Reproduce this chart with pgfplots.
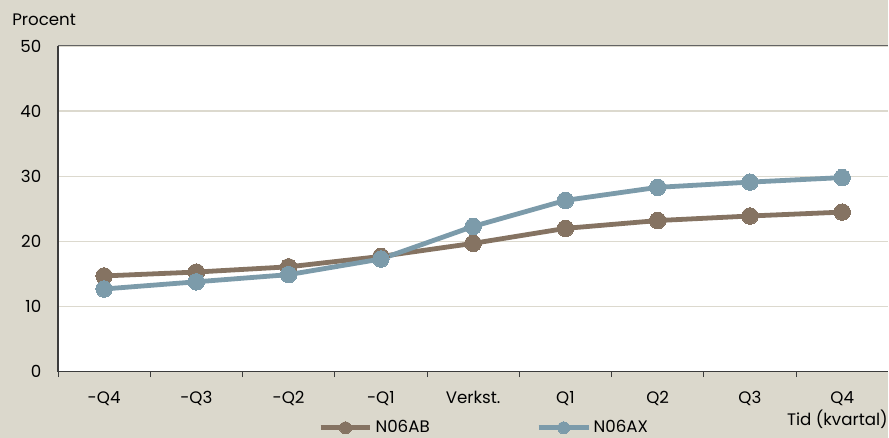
\documentclass[border=0pt]{standalone}
\usepackage{pgfplots}
\pgfplotsset{compat=1.18}
\usepackage{fontspec}
\setmainfont{Poppins}
\definecolor{bgc}{RGB}{219,216,204}
\definecolor{gridc}{RGB}{220,217,206}
\definecolor{brownc}{RGB}{133,115,98}
\definecolor{bluec}{RGB}{124,155,170}
\definecolor{axc}{RGB}{60,60,60}
\begin{document}
\begin{tikzpicture}
\fill[bgc] (0,0) rectangle (666.75pt,328.5pt);
\begin{axis}[
  at={(43.5pt,49.5pt)}, anchor=south west,
  scale only axis, width=623.25pt, height=244.5pt,
  xmin=-0.5, xmax=8.5, ymin=0, ymax=50,
  axis background/.style={fill=white},
  axis x line*=bottom, axis y line*=left,
  axis line style={axc, line width=0.9pt},
  x axis line style={-}, y axis line style={-},
  xtick={0,...,8},
  xticklabels={-Q4,-Q3,-Q2,-Q1,Verkst.,Q1,Q2,Q3,Q4},
  minor xtick={-0.5,0.5,...,7.5},
  major tick length=0pt, minor tick length=4pt,
  tick align=outside,
  minor tick style={axc, line width=0.6pt},
  ytick={0,10,...,50},
  /pgf/number format/assume math mode=true,
  ymajorgrids, grid style={gridc, line width=1pt},
  tick label style={font=\fontsize{12.5}{14}\selectfont, text=black},
  xticklabel style={yshift=-11pt},
  yticklabel style={xshift=-9pt},
  clip=false,
  legend columns=2,
  legend style={at={(rel axis cs:0.313,-0.172)}, anchor=west, draw=none, fill=none,
     inner sep=0pt, font=\fontsize{12.5}{14}\selectfont,
     /tikz/every even column/.append style={column sep=78pt}},
  legend cell align=left,
  legend image code/.code={\draw[#1, mark repeat=2, mark phase=2, mark size=4.5pt]
     plot coordinates {(0pt,0pt)(18.75pt,0pt)(37.5pt,0pt)};},
]
\draw[axc!80, line width=0.8pt] (rel axis cs:0,1) -- (rel axis cs:1,1);
\addplot[brownc, line width=3.6pt, mark=*, mark size=6.2pt, mark options={fill=brownc, draw=brownc, line width=0pt}]
 coordinates {(0,14.7)(1,15.3)(2,16.1)(3,17.7)(4,19.7)(5,22.0)(6,23.2)(7,23.9)(8,24.5)};
\addlegendentry{N06AB}
\addplot[bluec, line width=3.6pt, mark=*, mark size=6.2pt, mark options={fill=bluec, draw=bluec, line width=0pt}]
 coordinates {(0,12.7)(1,13.8)(2,14.9)(3,17.3)(4,22.3)(5,26.3)(6,28.3)(7,29.1)(8,29.8)};
\addlegendentry{N06AX}
\end{axis}
\node[anchor=west, inner sep=0pt, font=\fontsize{12.5}{14}\selectfont] at (9pt,313.5pt) {Procent};
\node[anchor=east, inner sep=0pt, font=\fontsize{12.5}{14}\selectfont] at (666.5pt,14pt) {Tid (kvartal)};
\end{tikzpicture}
\end{document}
